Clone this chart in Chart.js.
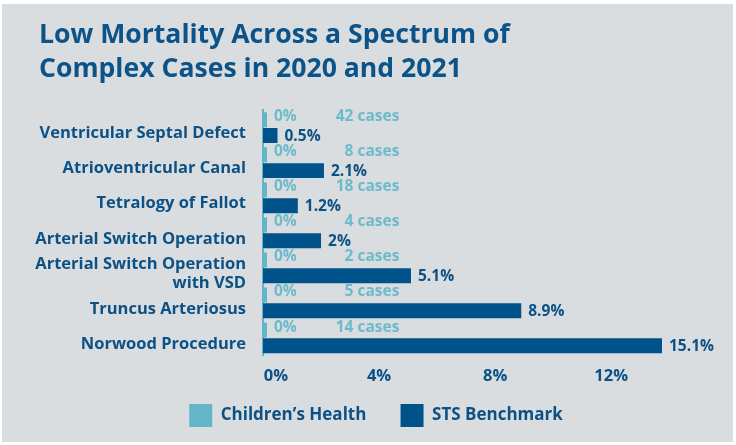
<!DOCTYPE html>
<html>
<head>
<meta charset="utf-8">
<script src="https://cdn.jsdelivr.net/npm/chart.js@4.4.1/dist/chart.umd.min.js"></script>
<style>
  body { margin: 0; background: #ffffff; }
  #cartao { position: absolute; left: 2px; top: 4px; width: 731px; height: 438px; background: #d9dde0; }
</style>
</head>
<body>
<div id="cartao"><canvas id="mortalidade"></canvas></div>
<script>
// Categorias (eixo Y)
const categorias = [
  'Ventricular Septal Defect',
  'Atrioventricular Canal',
  'Tetralogy of Fallot',
  'Arterial Switch Operation',
  ['Arterial Switch Operation', 'with VSD'],
  'Truncus Arteriosus',
  'Norwood Procedure'
];

// Mortalidade (%) por série
const childrensHealth = [0, 0, 0, 0, 0, 0, 0];
const stsBenchmark = [0.5, 2.1, 1.2, 2, 5.1, 8.9, 15.1];

// Número de casos do Children's Health
const casos = [42, 8, 18, 4, 2, 5, 14];

// Ticks do eixo X
const ticksX = [0, 4, 8, 12];

const azul = '#00538a';
const azulTexto = '#0c5185';
const turquesa = '#63b6c7';
const turquesaTexto = '#6dbacb';
const fonte = '"Open Sans", sans-serif';

// Plugin para escrever os rótulos ao lado das barras
const rotulos = {
  id: 'rotulos',
  afterLayout(chart) {
    // título e legenda um pouco deslocados para a direita, como no original
    chart.titleBlock.left += 9;
    chart.legend.left += 30;
    chart.legend.right += 30;
  },
  afterDatasetsDraw(chart) {
    const ctx = chart.ctx;
    const area = chart.chartArea;
    const escalaX = chart.scales.x;
    ctx.save();
    ctx.textBaseline = 'middle';
    ctx.font = 'bold 15.5px ' + fonte;
    chart.getDatasetMeta(0).data.forEach((barra, i) => {
      ctx.fillStyle = turquesaTexto;
      ctx.textAlign = 'left';
      ctx.fillText(childrensHealth[i] + '%', barra.x + 7, barra.y - 3);
      ctx.textAlign = 'right';
      ctx.fillText(casos[i] + ' cases', escalaX.getPixelForValue(4.7), barra.y - 3);
    });
    chart.getDatasetMeta(1).data.forEach((barra, i) => {
      ctx.fillStyle = azulTexto;
      ctx.textAlign = 'left';
      ctx.fillText(stsBenchmark[i] + '%', Math.min(barra.x, area.right) + 7, barra.y + 1);
    });
    ctx.restore();
  }
};

const dados = {
  labels: categorias,
  datasets: [
    {
      label: "Children’s Health",
      data: childrensHealth,
      backgroundColor: turquesa,
      minBarLength: 4,
      categoryPercentage: 0.9,
      barPercentage: 0.95
    },
    {
      label: 'STS Benchmark',
      data: stsBenchmark,
      backgroundColor: azul,
      categoryPercentage: 0.9,
      barPercentage: 0.95
    }
  ]
};

const config = {
  type: 'bar',
  data: dados,
  plugins: [rotulos],
  options: {
    indexAxis: 'y',
    responsive: true,
    maintainAspectRatio: false,
    animation: false,
    layout: { padding: { left: 28, right: 71, top: 0, bottom: 5 } },
    scales: {
      x: {
        min: 0,
        max: 13.75,
        grid: { display: false },
        border: { display: false },
        afterBuildTicks: (escala) => {
          escala.ticks = ticksX.map(v => ({ value: v }));
        },
        afterFit: (escala) => { escala.height = 32; },
        ticks: {
          padding: 5,
          maxRotation: 0,
          color: azulTexto,
          font: { family: fonte, size: 16.5, weight: 'bold', lineHeight: 1 },
          callback: (v) => (v === 0 ? '      0%' : v + '%')
        }
      },
      y: {
        grid: { display: false, drawTicks: false },
        border: { display: true, color: turquesa, width: 2 },
        afterFit: (escala) => { escala.width = 233; },
        ticks: {
          autoSkip: false,
          padding: 17,
          labelOffset: 6,
          color: azulTexto,
          font: { family: fonte, size: 16.5, weight: 'bold' }
        }
      }
    },
    plugins: {
      title: {
        display: true,
        text: ['Low Mortality Across a Spectrum of', 'Complex Cases in 2020 and 2021'],
        align: 'start',
        color: '#0b5388',
        font: { family: fonte, size: 26.6, weight: 'bold', lineHeight: 1.3 },
        padding: { top: 14, bottom: 23 }
      },
      legend: {
        position: 'bottom',
        labels: {
          boxWidth: 23,
          boxHeight: 23,
          padding: 16.5,
          color: azulTexto,
          font: { family: fonte, size: 17, weight: 'bold' },
          generateLabels: (chart) => {
            const itens = Chart.defaults.plugins.legend.labels.generateLabels(chart);
            // espaço extra entre os dois itens
            itens[0].text += '    ';
            return itens;
          }
        }
      },
      tooltip: { enabled: false }
    }
  }
};

const grafico = new Chart(document.getElementById('mortalidade'), config);
</script>
</body>
</html>
